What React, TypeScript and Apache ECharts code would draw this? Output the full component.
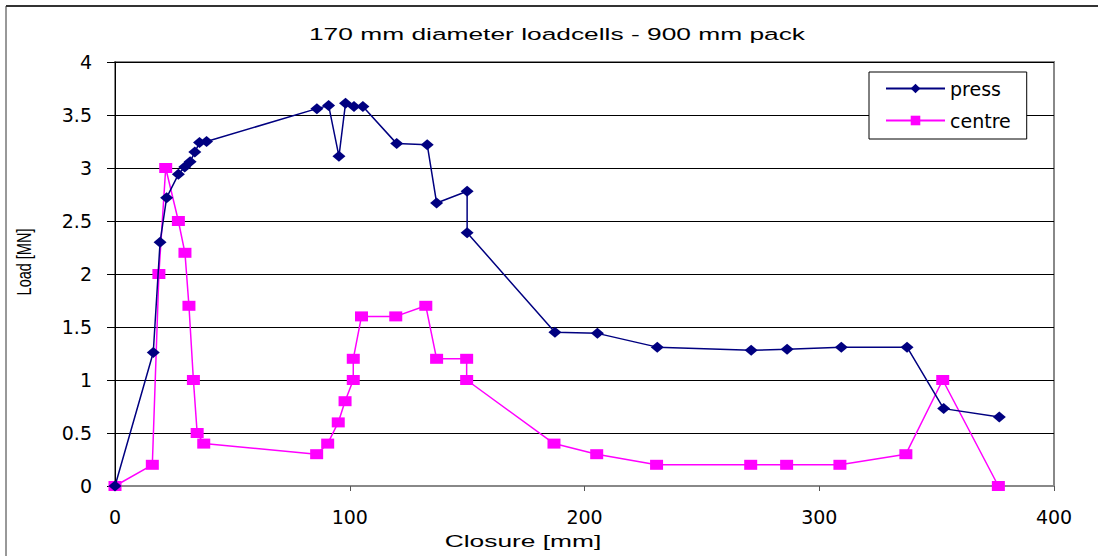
import React, { useEffect, useRef } from "react";
import * as echarts from "echarts";

const titleText = "170 mm diameter loadcells - 900 mm pack";
const xName = "Closure [mm]";
const yName = "Load [MN]";
const seriesNames = ["press", "centre"];

const pressX = [0, 16.3, 19.2, 22, 27, 29.7, 32, 34, 36, 39, 86, 91, 95.4, 98.2, 101.8, 105.6, 120, 133, 137, 150, 150, 187.4, 205.5, 231, 271, 286.3, 309.4, 337.4, 353, 376.7];
const pressY = [0, 1.26, 2.3, 2.72, 2.94, 3.01, 3.06, 3.15, 3.24, 3.25, 3.56, 3.59, 3.11, 3.61, 3.58, 3.58, 3.23, 3.22, 2.67, 2.78, 2.39, 1.45, 1.44, 1.31, 1.28, 1.29, 1.31, 1.31, 0.73, 0.65];

const centreX = [0, 15.9, 18.7, 21.6, 27, 29.8, 31.5, 33.4, 35, 37.8, 85.9, 90.6, 95.1, 98, 101.5, 101.5, 105, 119.6, 132.4, 137, 149.8, 149.8, 187, 205.2, 230.7, 270.8, 286.1, 308.8, 336.9, 352.6, 376.3];
const centreY = [0, 0.2, 2.0, 3.0, 2.5, 2.2, 1.7, 1.0, 0.5, 0.4, 0.3, 0.4, 0.6, 0.8, 1.0, 1.2, 1.6, 1.6, 1.7, 1.2, 1.2, 1.0, 0.4, 0.3, 0.2, 0.2, 0.2, 0.2, 0.3, 1.0, 0];

const FONT = "'Liberation Sans', Arial, sans-serif";
const WIDE = "'DejaVu Sans', sans-serif";

export default function App() {
  const ref = useRef<HTMLDivElement>(null);
  useEffect(() => {
    document.body.style.margin = "0";
    const chart = echarts.init(ref.current!, null, { renderer: "svg" });
    const pressData = pressX.map((x, i) => [x, pressY[i]]);
    const centreData = centreX.map((x, i) => [x, centreY[i]]);
    chart.setOption({
      animation: false,
      backgroundColor: "#ffffff",
      textStyle: { fontFamily: FONT },
      grid: {
        left: 115,
        right: 44,
        top: 62,
        bottom: 70,
        show: true,
        borderColor: "#888888",
        borderWidth: 2,
      },
      legend: {
        orient: "vertical",
        left: 869,
        top: 72,
        padding: [7, 16, 9, 16],
        itemGap: 13,
        itemWidth: 59,
        itemHeight: 12,
        backgroundColor: "#ffffff",
        borderColor: "#000",
        borderWidth: 1,
        textStyle: { fontFamily: WIDE, fontSize: 19, color: "#000" },
        data: seriesNames,
      },
      xAxis: {
        type: "value",
        min: 0,
        max: 400,
        interval: 100,
        axisLine: { show: true, lineStyle: { color: "#888888", width: 2 } },
        axisTick: { show: true, length: 5, inside: false, lineStyle: { color: "#555" } },
        axisLabel: { fontSize: 19, color: "#000", margin: 21, fontFamily: WIDE },
        splitLine: { show: false },
      },
      yAxis: {
        type: "value",
        min: 0,
        max: 4,
        interval: 0.5,
        axisLine: { show: true, onZero: false, lineStyle: { color: "#000", width: 1 } },
        axisTick: { show: true, length: 8, lineStyle: { color: "#000" } },
        axisLabel: { fontSize: 19, color: "#000", margin: 23, fontFamily: WIDE },
        splitLine: { show: true, lineStyle: { color: "#000", width: 1 } },
      },
      graphic: [
        { type: "line", shape: { x1: 6, y1: 6, x2: 1098, y2: 6 }, style: { stroke: "#333", lineWidth: 2 } },
        { type: "line", shape: { x1: 6, y1: 6, x2: 6, y2: 556 }, style: { stroke: "#333", lineWidth: 1 } },
        {
          type: "text",
          x: 557,
          y: 34,
          scaleX: 1.55,
          style: { text: titleText, font: `17px ${FONT}`, fill: "#000", align: "center", verticalAlign: "middle" },
        },
        {
          type: "text",
          x: 523,
          y: 541,
          scaleX: 1.55,
          style: { text: xName, font: `17px ${FONT}`, fill: "#000", align: "center", verticalAlign: "middle" },
        },
        {
          type: "text",
          x: 24,
          y: 262,
          rotation: Math.PI / 2,
          scaleY: 1.4,
          style: { text: yName, font: `14.5px ${FONT}`, fill: "#000", align: "center", verticalAlign: "middle" },
        },
      ],
      series: [
        {
          name: seriesNames[0],
          type: "line",
          data: pressData,
          symbol: "diamond",
          symbolSize: [13, 11],
          lineStyle: { color: "#000080", width: 1.5 },
          itemStyle: { color: "#000080" },
          z: 3,
        },
        {
          name: seriesNames[1],
          type: "line",
          data: centreData,
          symbol: "rect",
          symbolSize: [13, 10],
          lineStyle: { color: "#FF00FF", width: 1.5 },
          itemStyle: { color: "#FF00FF" },
          z: 2,
        },
      ],
    });
    return () => chart.dispose();
  }, []);
  return <div ref={ref} style={{ position: "absolute", left: 0, top: 0, width: 1098, height: 556 }} />;
}
